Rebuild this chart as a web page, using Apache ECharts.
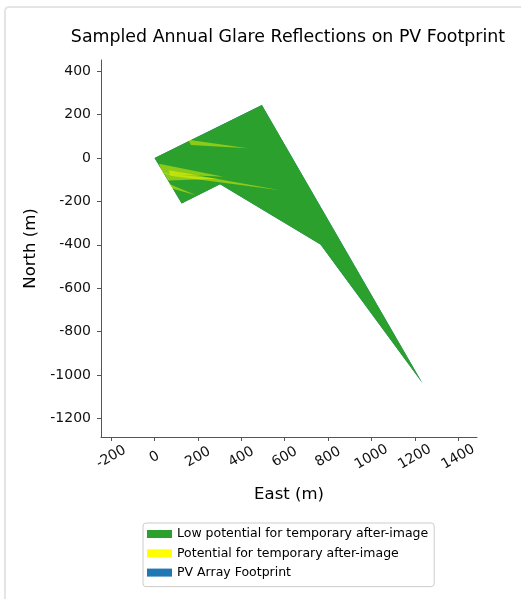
<!DOCTYPE html>
<html>
<head>
<meta charset="utf-8">
<script src="https://cdn.jsdelivr.net/npm/echarts@6/dist/echarts.min.js"></script>
<style>
html,body{margin:0;padding:0;background:#fff;}
#frame{position:absolute;left:4px;top:6px;width:600px;height:700px;border-top:2px solid #e4e4e4;border-left:2px solid #e4e4e4;border-top-left-radius:5px;box-sizing:border-box;}
#chart{position:absolute;left:0;top:0;width:521px;height:599px;}
</style>
</head>
<body>
<div id="frame"></div>
<div id="chart"></div>
<script>
// ---- data ----
var xTicks = [-200, 0, 200, 400, 600, 800, 1000, 1200, 1400];
var yTicks = [-1200, -1000, -800, -600, -400, -200, 0, 200, 400];
var xRange = [-247, 1487];
var yRange = [-1286, 452];

// PV array footprint outline (East, North in m)
var footprint = [[0, 0], [495, 245], [1235, -1037], [765, -398], [302, -121], [125, -210]];

// Low potential glare (covers the whole footprint)
var lowGlare = [[0, 0], [495, 245], [1235, -1037], [765, -398], [302, -121], [125, -210]];

// Potential for temporary after-image: thin sampled reflection streaks
var streakA = [[155, 84], [430, 45], [168, 60]];
var streakB = [[20, -26], [318, -86], [38, -74]];
var streakC = [[44, -70], [293, -96], [62, -104]];
var streakD = [[66, -56], [580, -148], [72, -82]];
var streakE = [[60, -116], [192, -172], [84, -142]];
var streaks = [streakA, streakB, streakC, streakD, streakE];

var names = ['Low potential for temporary after-image', 'Potential for temporary after-image', 'PV Array Footprint'];
var colors = ['#2ca02c', '#ffff00', '#1f77b4'];

function polyRender(polys, fill, opacity) {
  return function (params, api) {
    var poly = polys[params.dataIndex];
    var pts = poly.map(function (p) { return api.coord(p); });
    return {
      type: 'polygon',
      shape: { points: pts },
      style: { fill: fill, opacity: opacity, stroke: null }
    };
  };
}
function plain(v) { return String(v); }

var chart = echarts.init(document.getElementById('chart'), null, { renderer: 'canvas' });
var font = 'DejaVu Sans';
chart.setOption({
  animation: false,
  title: {
    text: 'Sampled Annual Glare Reflections on PV Footprint',
    left: 283, textAlign: 'center', top: 24,
    textStyle: { fontFamily: font, fontSize: 17.4, fontWeight: 'normal', color: '#000' }
  },
  legend: {
    orient: 'vertical', left: 143, top: 523,
    padding: [4, 6, 7, 4], itemGap: 5.3,
    itemWidth: 25, itemHeight: 8,
    borderColor: '#cccccc', borderWidth: 1, borderRadius: 3,
    textStyle: { fontFamily: font, fontSize: 12.5, color: '#000', lineHeight: 14 },
    data: [
      { name: names[0], icon: 'rect', itemStyle: { color: colors[0], opacity: 1 } },
      { name: names[1], icon: 'rect', itemStyle: { color: colors[1], opacity: 1 } },
      { name: names[2], icon: 'rect', itemStyle: { color: colors[2], opacity: 1 } }
    ]
  },
  grid: { left: 101, right: 44, top: 60, bottom: 162 },
  xAxis: {
    type: 'value', min: xRange[0], max: xRange[1],
    name: 'East (m)', nameLocation: 'middle', nameGap: 49,
    nameTextStyle: { fontFamily: font, fontSize: 16.5, color: '#000' },
    axisLine: { show: true, onZero: false, lineStyle: { color: '#555', width: 1 } },
    axisTick: { show: true, length: 4, lineStyle: { color: '#555' }, customValues: xTicks },
    axisLabel: { customValues: xTicks, formatter: plain, rotate: 30, align: 'center', verticalAlign: 'middle', margin: 20,
      fontFamily: font, fontSize: 14, color: '#111' },
    splitLine: { show: false }
  },
  yAxis: {
    type: 'value', min: yRange[0], max: yRange[1],
    name: 'North (m)', nameLocation: 'middle', nameGap: 58, nameRotate: 90,
    nameTextStyle: { fontFamily: font, fontSize: 16.5, color: '#000' },
    axisLine: { show: true, onZero: false, lineStyle: { color: '#555', width: 1 } },
    axisTick: { show: true, length: 4, lineStyle: { color: '#555' }, customValues: yTicks },
    axisLabel: { customValues: yTicks, formatter: plain, margin: 10, fontFamily: font, fontSize: 14, color: '#111' },
    splitLine: { show: false }
  },
  series: [
    {
      name: names[2], type: 'custom', coordinateSystem: 'cartesian2d',
      itemStyle: { color: colors[2] },
      renderItem: polyRender([footprint], colors[2], 1),
      data: [0], silent: true
    },
    {
      name: names[0], type: 'custom', coordinateSystem: 'cartesian2d',
      itemStyle: { color: colors[0] },
      renderItem: polyRender([lowGlare], colors[0], 1),
      data: [0], silent: true
    },
    {
      name: names[1], type: 'custom', coordinateSystem: 'cartesian2d',
      itemStyle: { color: colors[1] },
      renderItem: polyRender(streaks, colors[1], 0.45),
      data: streaks.map(function (s, i) { return i; }), silent: true
    }
  ]
});
</script>
</body>
</html>
